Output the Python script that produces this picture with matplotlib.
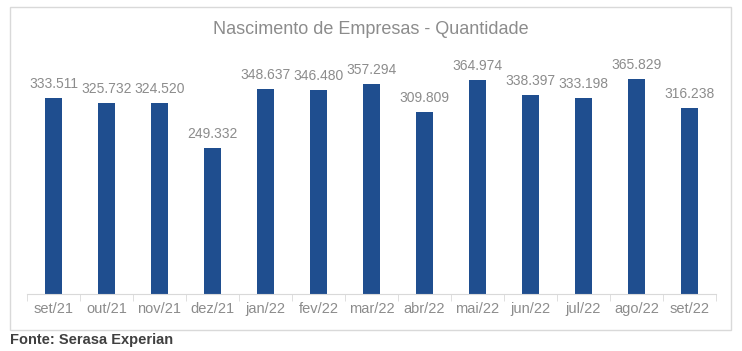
import matplotlib.pyplot as plt
from matplotlib.patches import Rectangle
import numpy as np

plt.rcParams["font.family"] = ["Liberation Sans", "DejaVu Sans"]

meses = ["set/21", "out/21", "nov/21", "dez/21", "jan/22", "fev/22", "mar/22",
         "abr/22", "mai/22", "jun/22", "jul/22", "ago/22", "set/22"]
nascimentos = [333511, 325732, 324520, 249332, 348637, 346480, 357294,
               309809, 364974, 338397, 333198, 365829, 316238]

BAR_COLOR = "#1F4E8F"
TEXT_GRAY = "#8C8C8C"
LINE_GRAY = "#D9D9D9"


def fmt(v):
    return f"{v:,}".replace(",", ".")


fig = plt.figure(figsize=(7.42, 3.51), dpi=100)

# moldura do gráfico
fig.patches.append(Rectangle((10 / 742, 21 / 351), 721 / 742, 323 / 351,
                             transform=fig.transFigure, fill=False,
                             edgecolor=LINE_GRAY, linewidth=1))

ax = fig.add_axes([27 / 742, 57 / 351, 689 / 742, 235 / 351])
x = np.arange(len(meses))
ax.bar(x, nascimentos, width=0.31, color=BAR_COLOR)

for xi, v in zip(x, nascimentos):
    ax.annotate(fmt(v), (xi, v), xytext=(0, 5), textcoords="offset points",
                ha="center", va="bottom", fontsize=10, color=TEXT_GRAY)

ax.set_xlim(-0.5, len(meses) - 0.5)
ax.set_ylim(0, 400000)
ax.set_yticks([])
for s in ["top", "right", "left"]:
    ax.spines[s].set_visible(False)
ax.spines["bottom"].set_color(LINE_GRAY)

ax.set_xticks(x)
ax.set_xticklabels(meses, fontsize=10.5, color=TEXT_GRAY)
ax.tick_params(axis="x", which="major", length=0, pad=6)
ax.set_xticks(np.arange(-0.5, len(meses)), minor=True)
ax.tick_params(axis="x", which="minor", length=5, color=LINE_GRAY)

fig.text(0.5, 1 - 30 / 351, "Nascimento de Empresas - Quantidade",
         ha="center", va="center", fontsize=13, color=TEXT_GRAY)
fig.text(10 / 742, 1 - 340 / 351, "Fonte: Serasa Experian",
         ha="left", va="center", fontsize=10.5, fontweight="bold", color="#404040")

fig.savefig("out.png", dpi=100)
